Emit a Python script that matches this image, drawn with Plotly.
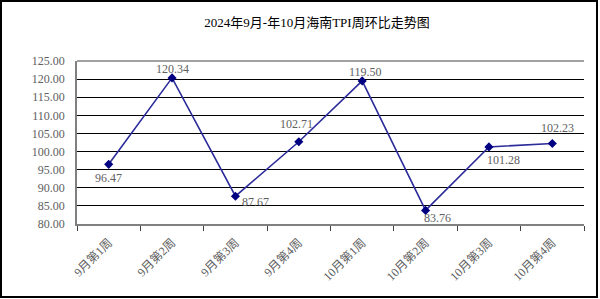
import plotly.graph_objects as go

categories = ["9月第1周", "9月第2周", "9月第3周", "9月第4周",
              "10月第1周", "10月第2周", "10月第3周", "10月第4周"]
values = [96.47, 120.34, 87.67, 102.71, 119.50, 83.76, 101.28, 102.23]
y_ticks = [80, 85, 90, 95, 100, 105, 110, 115, 120, 125]
title_text = "2024年9月-年10月海南TPI周环比走势图"

# label offsets (px) relative to each point: (xshift, yshift)
label_shifts = [(0, -14), (0, 9), (20, -6), (-2, 18), (3, 9), (12, -8), (15, -13), (5, 15)]

W, H = 600, 299
L, R, T, B = 77, 16, 61, 75
pw, ph = W - L - R, H - T - B

serif = "Liberation Serif, Noto Sans CJK SC, serif"

fig = go.Figure()
fig.add_trace(go.Scatter(
    x=categories, y=values, mode="lines+markers",
    line=dict(color="#2B2B9A", width=1.6),
    marker=dict(symbol="diamond", size=7, color="#000080"),
    hoverinfo="skip", showlegend=False,
))

for c, v, (dx, dy) in zip(categories, values, label_shifts):
    fig.add_annotation(x=c, y=v, text=f"{v:.2f}", showarrow=False,
                       xshift=dx, yshift=dy,
                       font=dict(family=serif, size=12, color="#606060"))

# outer border
fig.add_shape(type="rect", xref="paper", yref="paper",
              x0=(1 - L) / pw, x1=(597 - L) / pw,
              y0=-(297 - (T + ph)) / ph, y1=1 + (T - 1) / ph,
              line=dict(color="#000000", width=2), fillcolor="rgba(0,0,0,0)")

fig.update_layout(
    width=W, height=H,
    margin=dict(l=L, r=R, t=T, b=B),
    paper_bgcolor="white", plot_bgcolor="white",
    title=dict(text=title_text, x=317 / W, xanchor="center", y=1 - 22 / H, yanchor="middle",
               font=dict(family=serif, size=13, color="#000000")),
    xaxis=dict(
        type="category", tickson="boundaries", ticks="outside", ticklen=5,
        tickcolor="#404040", tickwidth=1,
        showline=True, linecolor="#808080", linewidth=1.5,
        showgrid=False, tickangle=-45, ticklabelstandoff=5,
        tickfont=dict(family=serif, size=12, color="#606060"),
        range=[-0.5, len(categories) - 0.5],
    ),
    yaxis=dict(
        range=[80, 125], tickvals=y_ticks, ticktext=[f"{t:.2f}" for t in y_ticks],
        showgrid=True, gridcolor="#000000", gridwidth=1,
        showline=True, linecolor="#808080", linewidth=1.5,
        ticks="", ticklabelstandoff=8,
        tickfont=dict(family=serif, size=12, color="#606060"),
        zeroline=False,
    ),
)
fig.add_shape(type="line", xref="paper", yref="paper", x0=0, x1=1, y0=1, y1=1,
              line=dict(color="#808080", width=1.5))

fig.write_html("out.html")
